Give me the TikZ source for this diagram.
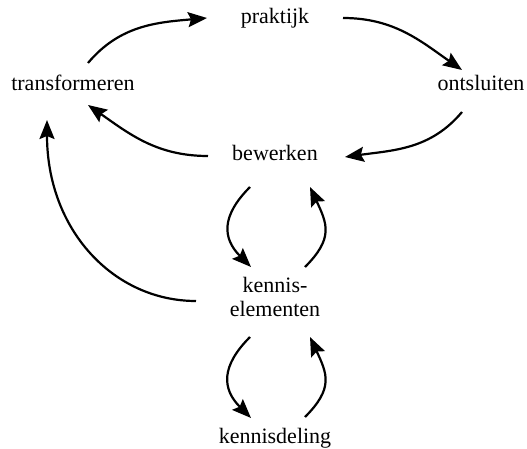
\documentclass[tikz,border=0pt]{standalone}
\usepackage{fontspec}
\setmainfont{Liberation Serif}
\usetikzlibrary{arrows.meta}
\begin{document}
\begin{tikzpicture}[
			x=1pt, y=1pt,
			term/.style={inner sep=0pt, font=\fontsize{22}{24}\selectfont, align=center},
			flow/.style={-{Stealth[length=19pt,width=15pt,inset=3pt]}, line width=2.2pt}
		]
		\useasboundingbox (0,0) rectangle (527,-449);
		\node[term] (trans) at (73,-83) {transformeren};
		\node[term] (prak) at (275,-18) {praktijk};
		\node[term] (onts) at (481,-83) {ontsluiten};
		\node[term] (bew) at (275,-153) {bewerken};
		\node[term] (elem) at (275,-297) {kennis-\\elementen};
		\node[term] (deling) at (275,-438) {kennisdeling};

		\draw[flow] ([shift={(15,20)}]trans.center) to[out=50,in=185] ([shift={(-68,0)}]prak.center);
		\draw[flow] ([shift={(68,0)}]prak.center) to[out=0,in=145] ([shift={(-19,13)}]onts.center);
		\draw[flow] ([shift={(-19,-29)}]onts.center) to[out=-130,in=8] ([shift={(70,-4)}]bew.center);
		\draw[flow] ([shift={(-67,-3)}]bew.center) to[out=180,in=-35] ([shift={(15,-22)}]trans.center);
		\draw[flow] ([shift={(-79,-4)}]elem.center) to[out=180,in=-90,out looseness=0.9,in looseness=1.2] ([shift={(-26,-37)}]trans.center);

		\draw[flow] ([shift={(-25,-34)}]bew.center) to[out=-135,in=135,looseness=1.3] ([shift={(-24,30)}]elem.center);
		\draw[flow] ([shift={(30,30)}]elem.center) to[out=45,in=-65,looseness=1.3] ([shift={(35,-34)}]bew.center);
		\draw[flow] ([shift={(-25,-40)}]elem.center) to[out=-135,in=135,looseness=1.3] ([shift={(-24,20)}]deling.center);
		\draw[flow] ([shift={(30,21)}]deling.center) to[out=45,in=-65,looseness=1.3] ([shift={(35,-40)}]elem.center);
	\end{tikzpicture}
\end{document}
